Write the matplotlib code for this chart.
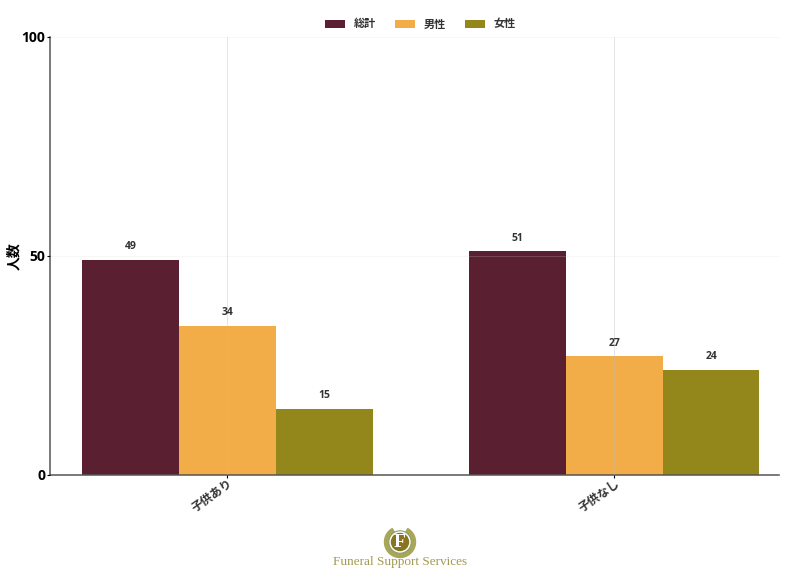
import numpy as np
import matplotlib
matplotlib.use('Agg')
import matplotlib.pyplot as plt
from matplotlib.patches import Circle, Wedge
from matplotlib.transforms import ScaledTranslation

plt.rcParams['font.family'] = ['Open Sans', 'Noto Sans CJK JP', 'DejaVu Sans']

categories = ['子供あり', '子供なし']
total = [49, 51]
male = [34, 27]
female = [15, 24]
series_names = ['総計', '男性', '女性']
colors = ['#5a1f30', '#f2ad48', '#93871c']
yticks = [0, 50, 100]

fig = plt.figure(figsize=(8, 5.78), dpi=100)
ax = fig.add_axes([50 / 800, 1 - 474.5 / 578, 729 / 800, 437.5 / 578])

x = np.arange(len(categories))
width = 0.25
series = [total, male, female]
for i, vals in enumerate(series):
    bars = ax.bar(x + (i - 1) * width, vals, width, color=colors[i], label=series_names[i], zorder=2)
    for b, v in zip(bars, vals):
        ax.annotate(str(v), (b.get_x() + b.get_width() / 2, v), xytext=(0, 5.5), textcoords='offset points',
                    ha='center', va='bottom', fontsize=7.5, fontweight='bold', color='#333333', zorder=4)

ax.set_xlim(-0.4585, 1.4255)
ax.set_ylim(0, 100)
ax.set_yticks(yticks)
ax.set_xticks(x)
ax.set_xticklabels(categories, rotation=35, ha='right', rotation_mode='anchor', fontsize=8.5, fontweight='bold', color='#333333')
shift = ScaledTranslation(-3 / 72, 0, fig.dpi_scale_trans)
for label in ax.get_xticklabels():
    label.set_transform(label.get_transform() + shift)
ax.tick_params(axis='y', labelsize=10, length=2, width=0.8, pad=1.5)
ax.tick_params(axis='x', length=2, width=0.8, pad=0)
for label in ax.get_yticklabels():
    label.set_fontweight('bold')
ax.set_ylabel('人数', fontsize=10, fontweight='bold')
ax.yaxis.set_label_coords(-29 / 729, 0.5)

ax.grid(True, axis='x', color='#bbbbbb', linewidth=0.6, alpha=0.45, zorder=3)
ax.grid(True, axis='y', color='#dddddd', linewidth=0.5, alpha=0.3, zorder=3)
ax.set_axisbelow(False)
ax.spines['top'].set_visible(False)
ax.spines['right'].set_visible(False)
ax.spines['left'].set_color('#555555')
ax.spines['bottom'].set_color('#555555')
ax.spines['left'].set_linewidth(1.1)
ax.spines['bottom'].set_linewidth(1.1)

fig.legend(loc='center', bbox_to_anchor=(420.5 / 800, 1 - 25 / 578), ncol=3, frameon=False,
           handlelength=1.8, handleheight=0.7, columnspacing=1.75, handletextpad=0.75,
           prop={'weight': 'bold', 'size': 8}, labelcolor='#333333')

# logo
logo = fig.add_axes([380 / 800, 1 - 562 / 578, 40 / 800, 40 / 578])
logo.set_xlim(-20, 20)
logo.set_ylim(-20, 20)
logo.axis('off')
logo.add_patch(Wedge((0, 0), 15.5, 120, 60, width=3.5, color='#a9a658'))
logo.add_patch(Circle((0, 0), 11, color='#7d9a5a'))
logo.add_patch(Circle((0, 0), 10, color='white'))
logo.add_patch(Circle((0, 0), 8.5, color='#8a7420'))
logo.text(0, -0.5, 'F', ha='center', va='center', fontsize=14, color='white', family='Liberation Serif', fontweight='bold')
fig.text(400 / 800, 1 - 562 / 578, 'Funeral Support Services', ha='center', va='center', fontsize=9.5,
         color='#a29a50', family='Liberation Serif')

fig.savefig('out.png', dpi=100)
